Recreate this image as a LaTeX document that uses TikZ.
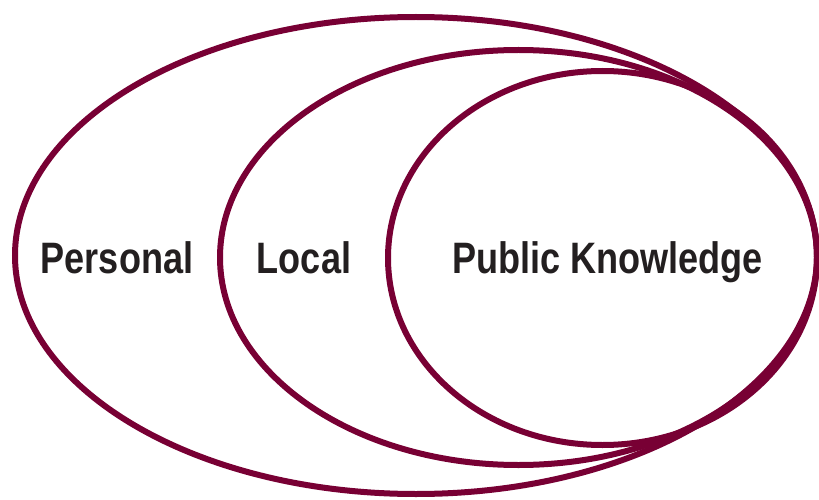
\documentclass[tikz,border=0pt]{standalone}
\usepackage{fontspec}
\newfontfamily\labfont{Liberation Sans}[FakeStretch=0.82]
\definecolor{maroon}{HTML}{780034}
\definecolor{labcol}{HTML}{231F20}
\begin{document}
\begin{tikzpicture}[x=1pt,y=-1pt,
  ring/.style={draw=maroon,line width=6pt},
  lab/.style={font=\labfont\bfseries\fontsize{44}{48}\selectfont,text=labcol,anchor=base,inner sep=0pt}]
\useasboundingbox (0,0) rectangle (819,500);
\draw[ring] (416,255.5) ellipse [x radius=401, y radius=238.5];
\draw[ring] (518.5,257.5) ellipse [x radius=298.5, y radius=207.5];
\draw[ring] (602.5,258) ellipse [x radius=214.5, y radius=187];
\node[lab] (personal) at (117,273) {Personal};
\node[lab] (local) at (304,273) {Local};
\node[lab] (public) at (607.5,273) {Public Knowledge};
\end{tikzpicture}
\end{document}
